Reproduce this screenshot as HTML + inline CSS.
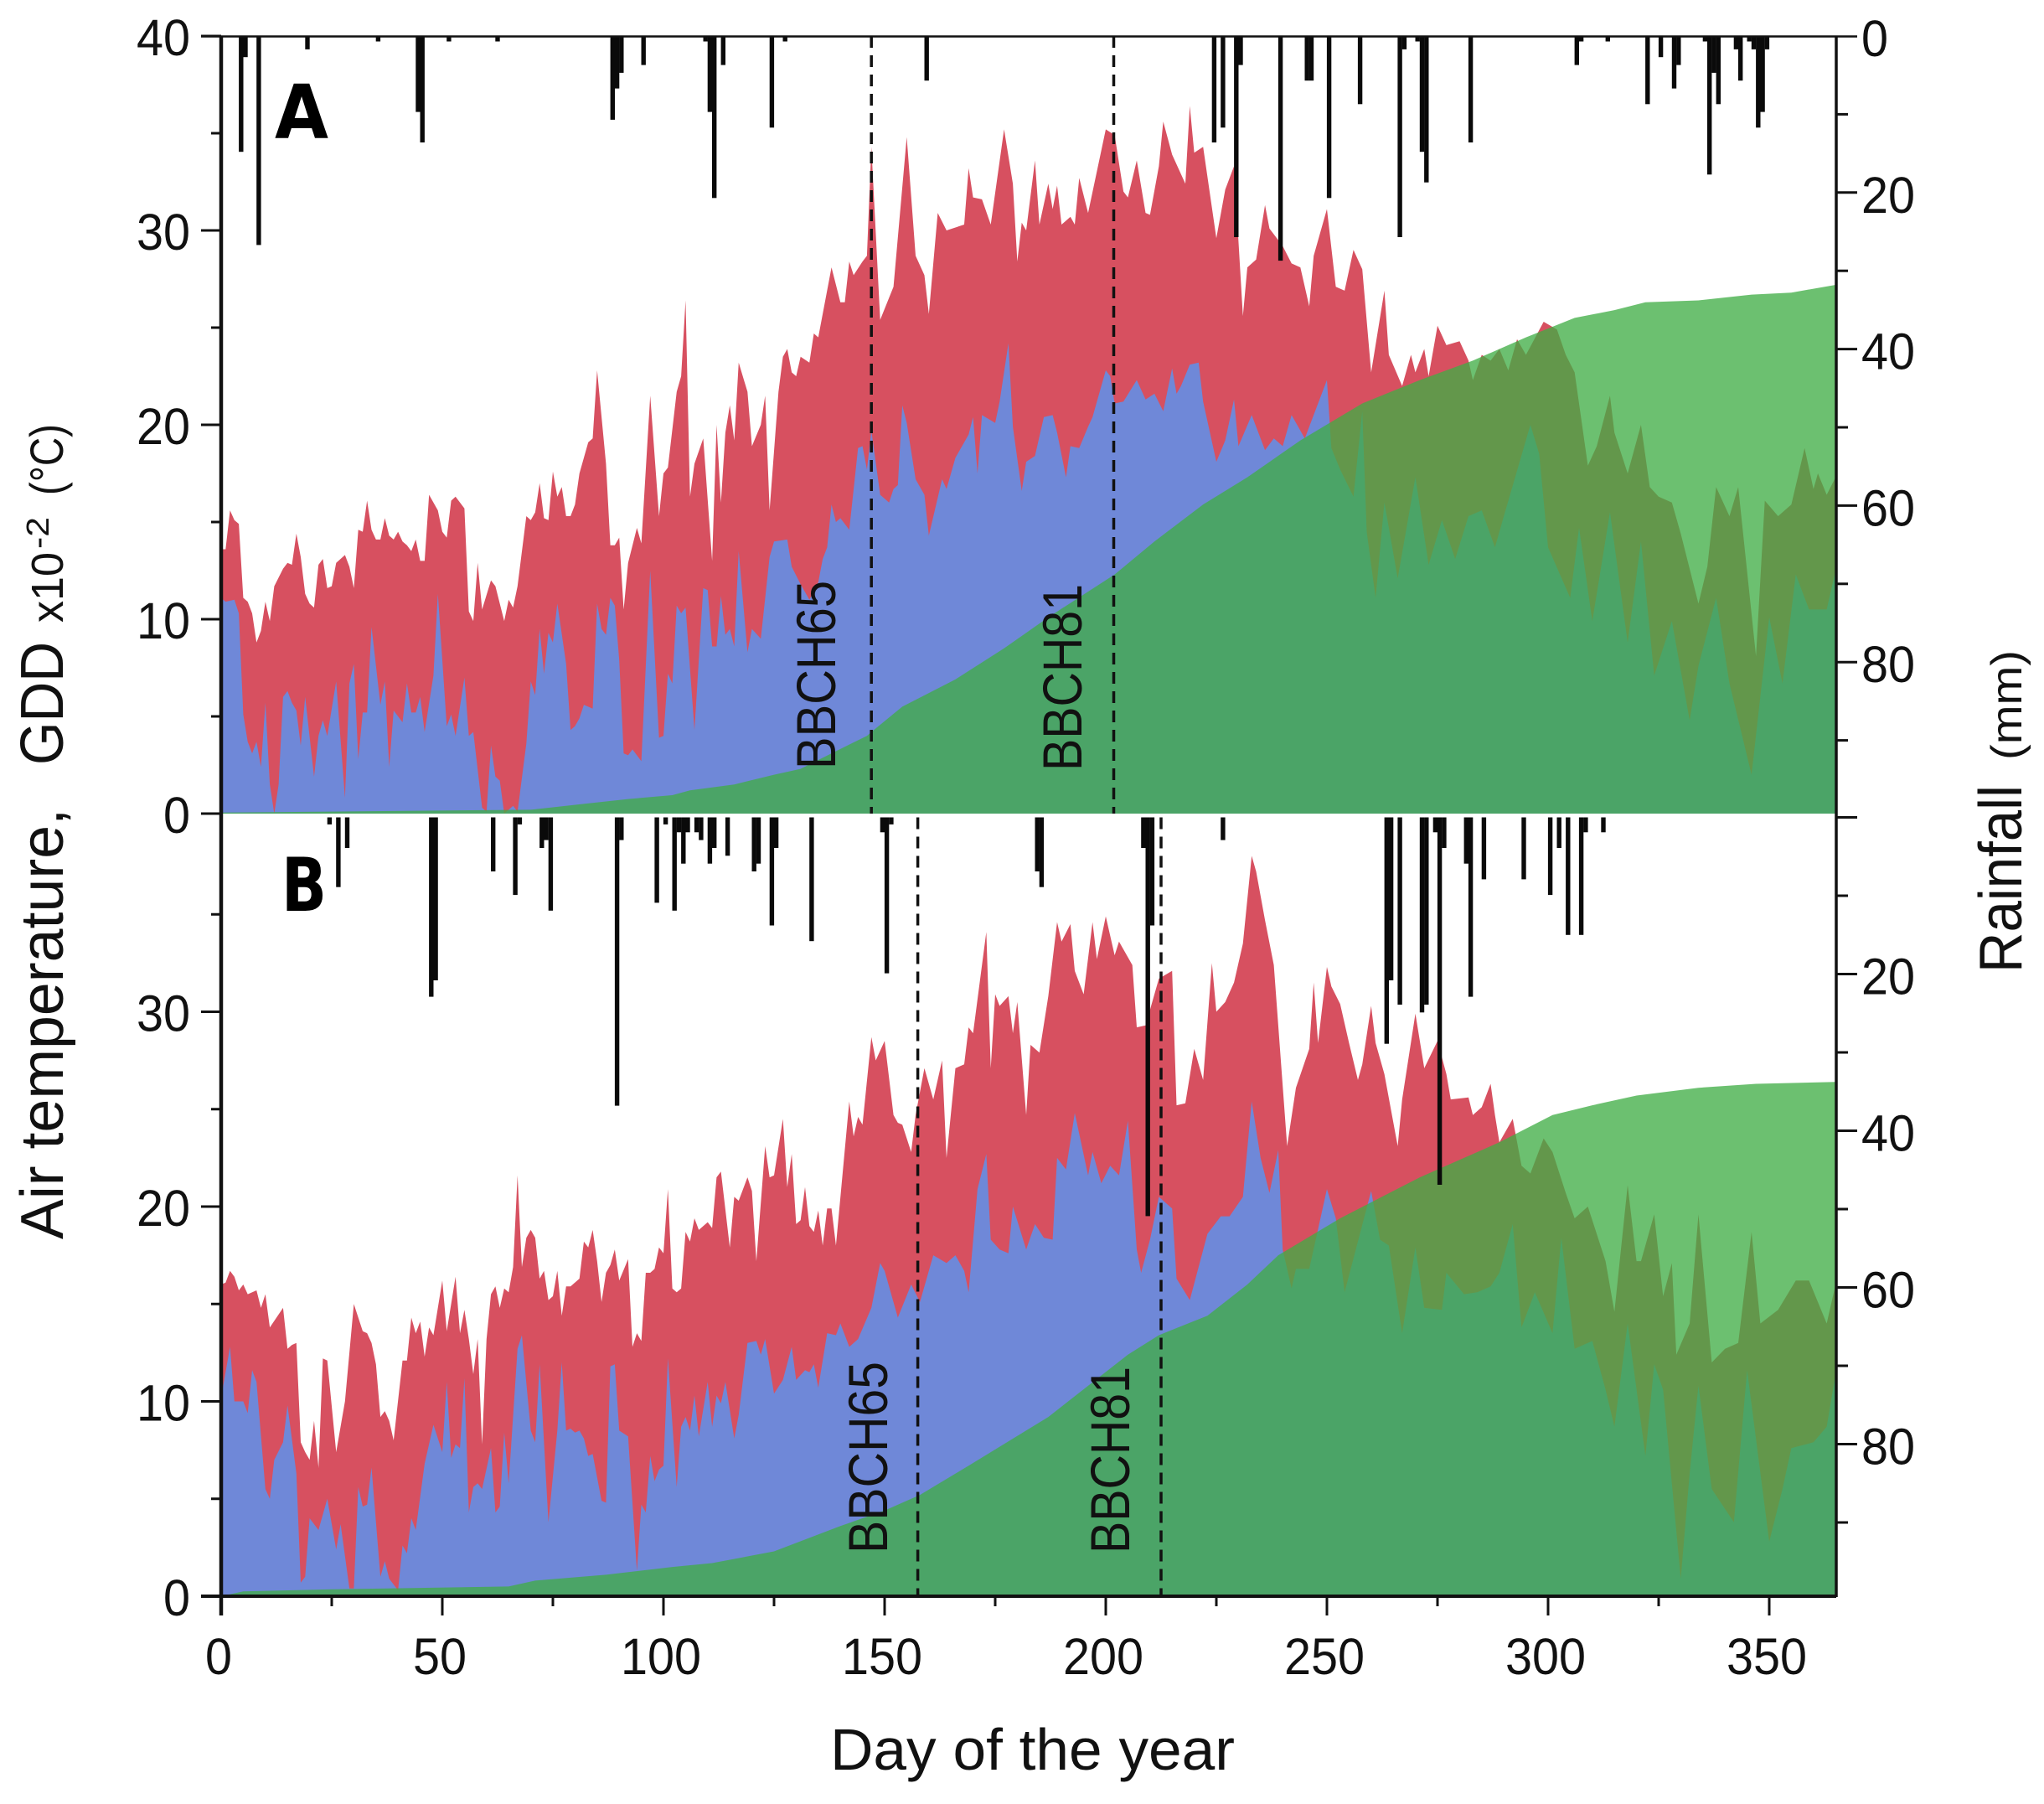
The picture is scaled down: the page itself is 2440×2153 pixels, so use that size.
<!DOCTYPE html>
<html lang="en">
<head>
<meta charset="utf-8">
<title>Air temperature, GDD and rainfall by day of the year</title>
<style>
html,body{margin:0;padding:0;background:#fff;}
svg{display:block;}
text{font-family:"Liberation Sans",sans-serif;fill:#111;}
</style>
</head>
<body>
<svg id="chart" xmlns="http://www.w3.org/2000/svg" width="2440" height="2153" viewBox="0 0 2440 2153">
<rect x="0" y="0" width="2440" height="2153" fill="#ffffff"/>
<g id="plots"></g>
<g id="axes"></g>
<text x="328" y="165" font-size="89" font-weight="bold" textLength="64" lengthAdjust="spacingAndGlyphs" style="font-family:'DejaVu Sans',sans-serif;fill:#000">A</text>
<text x="336" y="1087" font-size="88" font-weight="bold" textLength="54" lengthAdjust="spacingAndGlyphs" style="font-family:'DejaVu Sans',sans-serif;fill:#000">B</text>
<text transform="translate(997,918) rotate(-90)" font-size="66" textLength="225" lengthAdjust="spacingAndGlyphs">BBCH65</text>
<text transform="translate(1291,920) rotate(-90)" font-size="66" textLength="223" lengthAdjust="spacingAndGlyphs">BBCH81</text>
<text transform="translate(1059,1854) rotate(-90)" font-size="66" textLength="229" lengthAdjust="spacingAndGlyphs">BBCH65</text>
<text transform="translate(1348,1854) rotate(-90)" font-size="66" textLength="223" lengthAdjust="spacingAndGlyphs">BBCH81</text>
<text x="991" y="2112" font-size="70" textLength="483" lengthAdjust="spacingAndGlyphs">Day of the year</text>
<g>
<text transform="translate(75,1479) rotate(-90)" font-size="72" textLength="514" lengthAdjust="spacingAndGlyphs">Air temperature,</text>
<text transform="translate(75,913) rotate(-90)" font-size="72" textLength="147" lengthAdjust="spacingAndGlyphs">GDD</text>
<text transform="translate(75,743) rotate(-90)" font-size="54" textLength="84" lengthAdjust="spacingAndGlyphs">x10</text>
<text transform="translate(58,655) rotate(-90)" font-size="38" textLength="38" lengthAdjust="spacingAndGlyphs">-2</text>
<text transform="translate(75,591) rotate(-90)" font-size="56" textLength="85" lengthAdjust="spacingAndGlyphs">(°C)</text>
</g>
<g>
<text transform="translate(2413,1161) rotate(-90)" font-size="72" textLength="224" lengthAdjust="spacingAndGlyphs">Rainfall</text>
<text transform="translate(2413,907) rotate(-90)" font-size="52" textLength="131" lengthAdjust="spacingAndGlyphs">(mm)</text>
</g>
</svg>
<script>
// ---------- Panel A data ----------
const tmaxDaysA=[
0,1,2,3,4,5,6,7,8,9,
10,11,12,14,15,16,17,18,19,20,
21,22,23,24,25,26,28,29,30,31,
32,33,34,35,36,37,38,39,40,41,
42,43,44,45,46,47,49,50,51,52,
53,55,56,57,58,59,61,62,64,65,
66,67,69,70,71,72,73,74,75,76,
77,78,79,80,81,83,84,85,87,88,
89,90,91,92,94,95,97,99,100,101,
103,104,105,106,107,109,111,112,113,114,
115,116,117,119,120,122,123,124,126,127,
128,129,130,131,133,134,135,138,140,141,
142,143,145,146,147,149,152,155,157,159,
160,162,164,168,169,170,172,174,177,179,
180,181,182,184,185,187,188,189,190,192,
193,194,196,200,202,204,205,207,209,210,
212,213,215,218,219,220,222,225,227,229,
231,232,234,236,237,240,242,244,246,247,
250,252,254,256,258,260,263,264,267,269,
270,272,273,275,277,280,282,283,285,287,
289,291,293,295,299,302,304,306,309,311,
314,315,318,321,323,325,328,330,334,336,
338,341,343,347,349,352,355,358,360,361,
363,365];
const tmaxA=[
13.6,13.6,15.6,15.1,14.9,11.1,10.9,10.3,8.8,9.4,
10.9,9.9,11.7,12.6,12.9,12.8,14.4,13.2,11.3,10.8,
10.6,12.8,13.1,11.6,11.7,12.9,13.3,12.7,11.6,14.6,
14.5,16.1,14.6,14.1,14.1,15.2,14.3,14.1,14.5,14,
13.8,13.5,14.1,13,13,16.4,15.6,14.5,14.2,16.1,
16.3,15.7,10.4,9.9,12.9,10.5,12,11.7,9.9,11,
10.6,11.7,15.3,15.1,15.5,17,15.2,15.1,17.6,16.3,
16.8,15.3,15.3,15.9,17.5,19.1,19.3,22.8,18,13.8,
13.8,14.2,10.5,12.9,14.7,13.9,21.5,15.3,17.5,17.8,
21.7,22.5,26.4,16.3,18,19.3,13,20,16,19.6,
21,19.2,23.2,21.7,18.9,20,21.5,15.6,21.7,23.5,
23.9,22.7,22.5,23.5,23.2,24.7,24.5,28.1,26.3,26.3,
28.4,27.7,28.4,28.7,34.3,25.4,27.1,34.8,28.7,27.7,
25.7,30.9,30,30.3,33.2,31.7,31.6,30.3,35.2,32.4,
28.4,30.4,30,33.6,30.3,32.4,31.1,32.3,30.3,30.7,
30.3,32.7,30.9,35.2,34.9,32,31.7,33.6,30.9,30.8,
33.3,35.6,33.9,32.4,36.4,34,34.3,29.6,32.1,33.3,
25.6,28.1,28.5,31.3,30.1,29.2,28.3,28.1,26.1,28.7,
31.1,27.1,26.9,29,28,22.7,26.9,23.6,22,23.6,
22.7,23.9,22.5,25.1,24.1,24.3,23.3,22.3,23.6,23.3,
23.9,22.8,24.4,23.6,25.3,24.9,23.6,22.7,17.9,18.9,
21.5,19.6,17.5,20,16.8,16.3,16,14.4,10.8,12.7,
16.8,15.3,16.8,8.1,16.1,15.3,15.9,18.8,16.7,17.5,
16.4,17.3];
const tminDaysA=[
0,1,3,4,5,6,7,8,9,10,
11,12,13,14,15,16,17,18,19,21,
22,23,24,26,28,29,30,31,32,33,
34,36,37,38,39,41,42,43,44,45,
46,48,49,51,52,53,55,56,57,59,
60,61,62,63,64,66,67,69,70,71,
72,73,74,75,76,78,79,80,81,82,
84,85,86,87,88,89,90,91,92,93,
95,97,99,100,101,102,103,104,105,107,
109,110,111,112,113,114,115,116,117,119,
120,122,124,125,128,129,131,133,135,136,
137,138,139,140,142,144,145,146,147,149,
151,152,153,154,155,157,159,160,163,164,
166,169,170,171,172,175,176,178,179,181,
182,184,186,188,189,191,192,194,196,197,
200,201,202,204,207,209,211,213,215,216,
217,219,221,222,225,227,229,230,233,236,
238,240,242,245,250,251,253,256,258,259,
261,263,266,270,273,276,279,282,285,288,
290,296,298,300,305,307,310,314,318,321,
324,328,332,334,338,341,346,350,353,356,
359,363,365];
const tminA=[
11.1,10.9,11,10.3,5.1,3.7,3.1,3.7,2.4,5.7,
1.5,0,1.5,6,6.3,5.7,5.3,3.5,6,1.9,
4,4.8,4,6.8,0.8,6.7,7.7,2.8,5.2,5.2,
9.6,5.6,6.8,2.4,5.3,4.7,6.7,5.2,5.2,6,
4.2,7.1,11.3,4.5,5.1,4,7,4,4.2,0.3,
0.1,3.5,1.9,1.7,0,0.4,0.1,3.6,6.8,6.1,
9.5,7.2,9.3,8.8,10.8,7.7,4.3,4.5,4.9,5.6,
5.4,10.8,9.5,9.2,11.1,10.7,7.9,3.1,3,3.3,
2.7,12.5,3.9,4,7.2,6.7,10.7,10.3,10.6,4.3,
11.6,11.5,8.6,8.6,11.2,9.2,9.5,8.6,13.5,8.3,
9.5,9,13.2,14,14.1,12.7,11.8,11,11.9,13.1,
13.7,15.9,15,15.2,14.6,18.8,18.9,17.7,19.7,16.4,
16,16.7,16.9,21,20.1,17.2,16.4,14.3,17.2,16.7,
18.3,19.5,20.4,17.5,20.5,20.1,21.2,24.2,19.9,16.6,
18.1,18.4,20.4,20.5,19.6,17.3,18.9,18.8,19.9,20.4,
22.8,22.5,21.1,21.2,22.3,21.3,21.6,20.7,22.9,21.6,
22,23.1,23.2,21.2,18.1,19.2,21.3,18.9,20.5,18.7,
19.3,18.9,20.5,19.3,22.3,18.8,17.7,16.3,20.7,14.5,
11.1,16,12.1,17.3,12.8,15.1,13.1,15.3,15.6,13.7,
15.3,20,18.5,13.7,11.1,14.7,9.9,15.5,8.8,14,
7.1,9.9,4.8,7.6,11.1,6.7,2,10.1,6.7,12.3,
10.5,10.5,12.5];
const gddDaysA=[
0,70,82,92,102,106,116,125,131,138,
146,147,154,166,177,187,202,211,222,232,
244,258,271,283,295,306,315,322,334,346,
355,365];
const gddA=[
0.05,0.2,0.5,0.75,0.95,1.2,1.5,2,2.3,3.1,
4,4.2,5.5,6.9,8.5,10.1,12.3,14,15.9,17.3,
19.2,21.1,22.3,23.3,24.5,25.5,25.9,26.3,26.4,26.7,
26.8,27.2];
const rainDaysA=[
4,5,8,19,35,44,45,51,62,88,
89,90,95,109,110,111,113,124,127,159,
224,226,229,230,239,245,246,250,257,266,
267,270,271,272,282,306,307,313,322,325,
328,329,335,336,337,338,342,343,345,346,
347,348,349];
const rainA=[
14.8,2.7,26.7,1.7,0.7,9.7,13.6,0.7,0.7,10.7,
6.7,4.7,3.7,0.7,9.7,20.7,3.7,11.7,0.7,5.7,
13.6,11.7,25.7,3.7,28.7,5.7,5.7,20.7,8.7,25.7,
1.7,0.7,14.8,18.7,13.6,3.7,0.7,0.7,8.7,2.7,
6.7,3.7,0.7,17.7,4.7,8.7,1.7,5.7,0.7,1.7,
11.7,9.7,1.7];
const stageDaysA=[147,201.8];

// ---------- Panel B data ----------
const tmaxDaysB=[
0,1,2,3,4,5,6,8,9,10,
11,14,15,16,17,18,19,20,21,22,
23,24,26,28,30,32,33,34,35,36,
37,38,39,41,42,43,44,45,46,47,
48,50,51,53,54,55,56,57,58,59,
60,61,62,63,64,65,66,67,68,69,
70,71,72,73,74,75,76,77,78,79,
81,82,83,84,85,86,87,88,89,90,
92,93,94,95,96,97,98,99,100,101,
102,103,104,105,106,107,108,110,111,112,
113,115,116,117,119,120,121,123,124,125,
127,128,129,130,131,132,133,134,135,136,
137,138,139,142,143,144,145,147,148,150,
152,153,154,156,157,159,161,163,164,166,
168,169,170,173,174,175,176,178,179,180,
182,183,185,187,189,190,192,193,195,197,
198,200,202,203,206,207,209,212,215,216,
218,220,222,224,225,227,229,231,233,234,
236,238,241,243,246,247,248,250,251,253,
255,257,258,260,261,263,266,267,270,272,
275,277,278,282,283,285,287,288,289,292,
294,296,299,301,304,306,309,313,315,318,
320,321,324,326,328,329,332,334,337,340,
343,346,348,352,356,359,363,365];
const tmaxB=[
16,16.1,16.7,16.4,15.7,16,15.5,15.7,14.8,15.5,
13.8,14.8,12.7,12.9,13,7.9,7.4,7,9,6.6,
12.2,12.1,7.4,10,15,13.6,13.5,13,11.9,9.2,
9.5,9,8,12.1,12.1,14.3,13.5,14.1,12.3,13.8,
13.4,16.2,13.6,16.4,13.5,14.7,13.2,11.4,13.2,7.8,
13.2,15.5,15.9,14.8,15.8,15.6,16.9,21.6,16.9,18.4,
18.8,18.4,16.3,16.7,15.2,15.4,16.7,14.4,15.9,15.9,
16.3,18.2,17.9,18.8,17.2,15.1,16.6,17,17.8,16.2,
17.3,12.8,13.5,13.1,16.6,16.6,16.8,17.9,17.6,20.9,
15.8,15.6,15.8,18.7,18.2,19.4,18.8,19.2,18.9,21.5,
21.8,17.9,20.5,20.3,21.5,20.8,17.2,23.1,21.5,21.6,
24.5,21,22.7,19.1,19.3,21,19,18.7,19.8,18,
19.9,19.9,18,25.4,23.6,24.6,24.2,28.7,27.5,28.5,
24.7,24.3,24.2,22.8,24.7,27.1,25.5,27.5,22.5,27.1,
27.3,29.2,28.9,34.1,27.1,30.9,30.3,30.8,28.9,30.5,
24.7,28.3,27.9,30.8,34.6,33.6,34.5,32.1,30.9,34.6,
32.7,34.9,32.9,33.6,32.4,29.2,29.3,31.7,32.1,25.2,
25.3,28.1,26.5,32.5,30,30.5,31.5,33.5,38,37.2,
34.7,32.4,23.1,26.1,28.1,31.5,28.4,32.3,31.3,30.4,
28.4,26.5,27.3,30.3,28.4,26.8,23.1,25.5,29.9,27.1,
28.5,26.8,25.5,25.6,24.7,25.1,26.3,24.7,23.3,24.5,
22.1,21.7,23.5,22.8,20.7,19.4,20,17.2,14.6,21.1,
17.2,17.2,19.6,15.4,17.1,12.4,14,19.6,12,12.7,
13,18.7,14,14.7,16.2,16.2,14,16];
const tminDaysB=[
0,2,3,5,6,7,8,10,11,12,
14,15,17,18,19,20,22,24,26,27,
29,30,31,32,33,34,36,37,38,40,
41,42,43,44,46,48,50,51,52,53,
54,55,56,57,58,59,61,62,63,64,
65,67,68,70,71,72,74,76,77,78,
79,80,81,82,83,84,86,87,88,89,
90,92,94,95,96,97,98,99,100,101,
103,104,105,106,107,108,110,111,112,113,
114,116,117,119,121,122,123,125,127,129,
130,132,133,134,135,137,139,140,142,144,
147,149,150,153,156,158,161,164,166,168,
169,171,173,174,176,178,179,182,184,186,
188,189,191,193,196,197,199,201,203,205,
207,208,210,212,215,216,219,223,226,228,
231,233,235,237,239,240,242,243,246,250,
252,254,260,262,264,267,270,272,276,277,
281,284,287,289,292,294,297,301,303,306,
310,313,315,318,322,324,326,330,332,334,
337,342,345,350,353,355,360,363,365];
const tminB=[
10.2,12.8,10,10,9.4,11.6,11,5.5,5,7,
7.9,9.8,6.3,0.7,1,4,3.4,5,2.4,3.7,
0.4,0.4,5.6,4.6,4.7,6.6,1,1.8,0.9,0.3,
2.6,2.2,4,3.4,6.8,8.8,7.4,11,7.1,7.8,
7.6,11.2,4.3,5.6,5.8,5.5,7.6,4.3,4.6,8.4,
5.8,12.7,13.4,8.5,7.9,11.9,3.8,8.5,12,8.5,
8.6,8.4,8.5,8.1,7.2,7.3,4.9,4.8,11.8,11.9,
8.5,8.2,1.3,4.7,4.3,7.2,5.9,6.5,6.7,12.2,
5.6,8.7,9.2,8.5,10.3,8.2,11,8.7,10.3,9.9,
11,8.1,9.3,13,13.1,12.4,13.2,10.4,11.1,12.8,
11.1,11.6,11.5,11.9,10.7,13.5,13.4,14,12.8,13.2,
14.8,17.1,16.7,14.3,16,15.1,17.5,17.1,17.5,16.7,
15.6,20.9,22.7,18.3,17.8,17.6,20,17.8,19.1,18.4,
18.3,22.5,21.9,24.8,21.6,22.8,21.2,22.1,21.6,24.4,
17.8,16.6,18.3,20.5,19.9,16.3,15.2,18.6,19.5,19.5,
20.5,25.4,22.5,20.7,22.9,17.8,15.8,16.8,16.8,20.9,
19.4,15.6,20.8,18.3,18,13.5,17.9,14.8,14.7,16.6,
15.5,15.6,15.9,16.6,19.1,13.8,15.6,13.5,18.4,12.7,
13.1,10.6,8.7,14,7.2,11.9,10.6,0.9,6.3,10.8,
5.5,3.8,11.6,2.8,5.5,7.6,7.9,8.7,11.4];
const gddDaysB=[
0,5,24,65,71,87,102,111,125,140,
150,158,169,187,196,205,212,223,232,239,
253,271,289,301,310,320,334,347,365];
const gddB=[
0,0.25,0.35,0.5,0.8,1.1,1.5,1.7,2.3,3.6,
4.4,5.2,6.7,9.2,10.8,12.4,13.4,14.4,16,17.5,
19.4,21.5,23.3,24.7,25.2,25.7,26.1,26.3,26.4];
const rainDaysB=[
24,26,28,47,48,61,66,67,72,73,
74,89,90,98,100,102,103,104,105,107,
108,110,111,114,120,121,124,125,133,149,
150,151,184,185,208,209,210,226,263,264,
266,271,272,274,275,276,281,282,285,294,
300,302,304,307,308,312];
const rainB=[
0.9,8.9,3.9,22.9,20.8,6.9,9.9,0.9,3.9,2.9,
11.9,36.8,2.9,10.9,0.9,11.9,1.9,5.9,1.9,1.9,
2.9,5.9,3.9,4.9,6.9,5.9,13.8,3.9,15.8,1.9,
19.9,0.9,6.9,8.9,3.9,50.9,13.8,2.9,28.9,20.8,
23.9,24.9,23.9,1.9,46.9,3.9,5.9,22.9,7.9,7.9,
9.9,3.9,15,15,1.9,1.9];
const stageDaysB=[157.5,212.5];

// ---------- Tick labels ----------
const xTickValues=[0,25,50,75,100,125,150,175,200,225,250,275,300,325,350];
const xTickLabels=[0,50,100,150,200,250,300,350];
const tempTicksA=[0,5,10,15,20,25,30,35,40];
const tempLabelsA=[0,10,20,30,40];
const tempTicksB=[0,5,10,15,20,25,30,35];
const tempLabelsB=[0,10,20,30];
const rainTicks=[10,20,30,40,50,60,70,80,90];
const rainLabelsA=[0,20,40,60,80];
const rainLabelsB=[20,40,60,80];

// ---------- Axis functions ----------
const NS='http://www.w3.org/2000/svg';
const plots=document.getElementById('plots');
const axes=document.getElementById('axes');
const xScale=d=>264+5.28*d;
const yTempA=t=>971-23.2*t;
const yTempB=t=>1905-23.25*t;
const yRainA=r=>43+9.34*r;
const yRainB=r=>975.5+9.35*r;

function make(tag,parent,props){
  const e=document.createElementNS(NS,tag);
  for(const k in props){e.setAttribute(k,props[k]);}
  parent.appendChild(e);
  return e;
}
function areaD(days,vals,y,base){
  const n=Math.min(days.length,vals.length);
  let d='M'+xScale(days[0]).toFixed(1)+' '+base;
  for(let i=0;i<n;i++){d+=' L'+xScale(days[i]).toFixed(1)+' '+y(vals[i]).toFixed(1);}
  d+=' L'+xScale(days[n-1]).toFixed(1)+' '+base+' Z';
  return d;
}
function tickLine(x1,y1,x2,y2,w,name){
  const l=make('line',axes,{x1:x1,y1:y1,x2:x2,y2:y2,stroke:'#111','stroke-width':w});
  
  
  return l;
}
function tickText(x,y,anchor,str,name){
  const s=String(str);
  const t=make('text',axes,{x:x,y:y,'text-anchor':anchor,'font-size':61,textLength:32*s.length,lengthAdjust:'spacingAndGlyphs'});
  t.textContent=s;
  
  
  return t;
}
function drawPanel(key,tmaxDays,tmax,tminDays,tmin,gddDays,gdd,rainDays,rain,stages,yT,yR){
  const base=yT(0).toFixed(1);
  const red=make('path',plots,{d:areaD(tmaxDays,tmax,yT,base),fill:'#d75060'});
  
  
  const blue=make('path',plots,{d:areaD(tminDays,tmin,yT,base),fill:'#6f88d8'});
  
  
  const green=make('path',plots,{d:areaD(gddDays,gdd,yT,base),fill:'rgb(64,173,69)','fill-opacity':0.77});
  
  
  rainDays.forEach(function(day,i){
    const top=yR(0);
    const b=make('rect',plots,{x:(xScale(day+0.5)-2.7).toFixed(1),y:top.toFixed(1),width:5.4,height:(yR(rain[i])-top).toFixed(1),fill:'#0a0a0a'});
    
    
  });
  stages.forEach(function(day,i){
    const s=make('line',plots,{x1:xScale(day).toFixed(1),x2:xScale(day).toFixed(1),y1:yR(0).toFixed(1),y2:base,stroke:'#111','stroke-width':3.5,'stroke-dasharray':'14 9'});
    
    
  });
}
drawPanel('a',tmaxDaysA,tmaxA,tminDaysA,tminA,gddDaysA,gddA,rainDaysA,rainA,stageDaysA,yTempA,yRainA);
drawPanel('b',tmaxDaysB,tmaxB,tminDaysB,tminB,gddDaysB,gddB,rainDaysB,rainB,stageDaysB,yTempB,yRainB);

// ---------- Axis lines ----------
tickLine(264,43,264,1928,4.5,'left-axis-line');
tickLine(2192,43,2192,1906,3.5,'right-axis-line');
tickLine(240,43.5,2217,43.5,2.5,'top-axis-line');
tickLine(240,1905,2192,1905,4,'bottom-axis-line');

// ---------- Ticks ----------
xTickValues.forEach(function(v){
  const major=xTickLabels.indexOf(v)>=0;
  tickLine(xScale(v),1905,xScale(v),major?1928:1917,3,'x-tick-'+v);
});
xTickLabels.forEach(function(v){
  tickText(xScale(v)-3,1998,'middle',v,'x-tick-label-'+v);
});
tempTicksA.forEach(function(v){
  const major=tempLabelsA.indexOf(v)>=0;
  tickLine(major?240:252,yTempA(v),264,yTempA(v),3,'temp-tick-a-'+v);
});
tempLabelsA.forEach(function(v){
  tickText(227,yTempA(v)+23,'end',v,'temp-tick-label-a-'+v);
});
tempTicksB.forEach(function(v){
  const major=tempLabelsB.indexOf(v)>=0;
  tickLine(major?240:252,yTempB(v),264,yTempB(v),3,'temp-tick-b-'+v);
});
tempLabelsB.forEach(function(v){
  tickText(227,yTempB(v)+23,'end',v,'temp-tick-label-b-'+v);
});
rainTicks.forEach(function(v){
  const major=rainLabelsA.indexOf(v)>=0;
  tickLine(2192,yRainA(v),major?2217:2206,yRainA(v),3,'rain-tick-a-'+v);
  tickLine(2192,yRainB(v),major?2217:2206,yRainB(v),3,'rain-tick-b-'+v);
});
tickLine(2192,975.5,2217,975.5,3,'rain-tick-panel-join');
rainLabelsA.forEach(function(v){
  tickText(2222,yRainA(v)+24,'start',v,'rain-tick-label-a-'+v);
});
rainLabelsB.forEach(function(v){
  tickText(2222,yRainB(v)+24,'start',v,'rain-tick-label-b-'+v);
});
</script>
</body>
</html>
